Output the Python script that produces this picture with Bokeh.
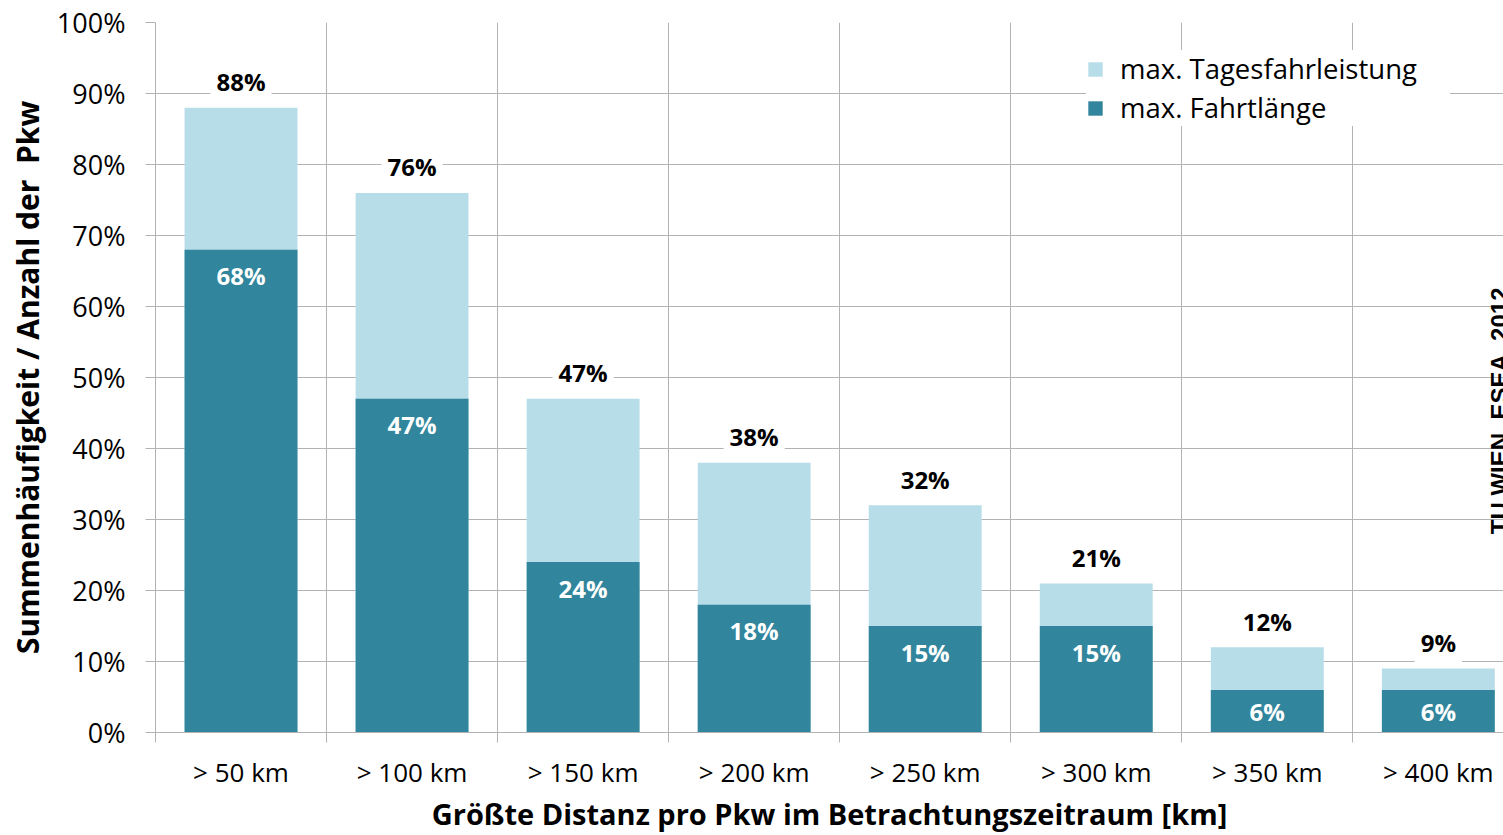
from bokeh.plotting import figure
from bokeh.models import ColumnDataSource, FixedTicker, PrintfTickFormatter, Range1d, Legend, LegendItem
from bokeh.core.properties import value
from bokeh.embed import file_html
from bokeh.resources import INLINE

# Data: cumulative share of cars exceeding each distance
categories = ["> 50 km", "> 100 km", "> 150 km", "> 200 km", "> 250 km", "> 300 km", "> 350 km", "> 400 km"]
tagesfahrleistung = [88, 76, 47, 38, 32, 21, 12, 9]   # max. daily mileage
fahrtlaenge = [68, 47, 24, 18, 15, 15, 6, 6]          # max. trip length
y_ticks = [0, 10, 20, 30, 40, 50, 60, 70, 80, 90, 100]

LIGHT = "#b7dde8"
DARK = "#31859c"
GRID = "#b3b3b3"
FONT = "Open Sans"

centers = [i + 0.5 for i in range(len(categories))]
n = len(categories)

# inner labels: a fixed distance below the bar top, but never below half the bar
px_per_pct = 7.1
inner_y = [max(v - 26 / px_per_pct, v / 2) for v in fahrtlaenge]

src = ColumnDataSource(dict(
    x=centers,
    total=tagesfahrleistung,
    trip=fahrtlaenge,
    total_txt=[f"{v}%" for v in tagesfahrleistung],
    trip_txt=[f"{v}%" for v in fahrtlaenge],
    inner_y=inner_y,
))

p = figure(width=1503, height=835, output_backend="svg", toolbar_location=None,
           x_range=Range1d(0, 7.881), y_range=Range1d(0, 100),
           min_border_left=155, min_border_right=0, min_border_top=22, min_border_bottom=103)
p.outline_line_color = None
p.background_fill_color = "white"
p.border_fill_color = "white"

r_light = p.vbar(x="x", top="total", width=0.66, source=src, fill_color=LIGHT, line_color=None)
r_dark = p.vbar(x="x", top="trip", width=0.66, source=src, fill_color=DARK, line_color=None)

# value labels
p.text(x="x", y="total", text="total_txt", source=src, text_align="center", text_baseline="middle",
       y_offset=-26, text_font=value(FONT), text_font_style="bold", text_font_size="24px",
       text_color="black", background_fill_color="white", padding=6)
p.text(x="x", y="inner_y", text="trip_txt", source=src, text_align="center", text_baseline="middle",
       text_font=value(FONT), text_font_style="bold", text_font_size="24px", text_color="white")

# x axis: labels at category centres, tick marks at category boundaries
p.xaxis.ticker = FixedTicker(ticks=centers, minor_ticks=list(range(n + 1)))
p.xaxis.major_label_overrides = {c: lab for c, lab in zip(centers, categories)}
p.xaxis.major_tick_line_color = None
p.xaxis.minor_tick_line_color = GRID
p.xaxis.minor_tick_in = 0
p.xaxis.minor_tick_out = 10
p.xaxis.axis_line_color = GRID
p.xaxis.major_label_text_font = FONT
p.xaxis.major_label_text_font_size = "26px"
p.xaxis.major_label_text_color = "black"
p.xaxis.major_label_standoff = 11
p.xaxis.axis_label = "Größte Distanz pro Pkw im Betrachtungszeitraum [km]"
p.xaxis.axis_label_text_font = FONT
p.xaxis.axis_label_text_font_style = "bold"
p.xaxis.axis_label_text_font_size = "29px"
p.xaxis.axis_label_text_color = "black"
p.xaxis.axis_label_standoff = 1

p.yaxis.ticker = FixedTicker(ticks=y_ticks)
p.yaxis.formatter = PrintfTickFormatter(format="%d%%")
p.yaxis.minor_tick_line_color = None
p.yaxis.major_tick_line_color = GRID
p.yaxis.major_tick_in = 0
p.yaxis.major_tick_out = 10
p.yaxis.axis_line_color = GRID
p.yaxis.major_label_text_font = FONT
p.yaxis.major_label_text_font_size = "27px"
p.yaxis.major_label_text_color = "black"
p.yaxis.major_label_standoff = 20
p.yaxis.axis_label = "Summenhäufigkeit / Anzahl der \u00a0Pkw"
p.yaxis.axis_label_text_font = FONT
p.yaxis.axis_label_text_font_style = "bold"
p.yaxis.axis_label_text_font_size = "30px"
p.yaxis.axis_label_text_color = "black"
p.yaxis.axis_label_standoff = 6

p.xgrid.ticker = FixedTicker(ticks=list(range(1, n + 1)))
p.xgrid.grid_line_color = GRID
p.ygrid.ticker = FixedTicker(ticks=y_ticks[1:])
p.ygrid.grid_line_color = GRID

# source note along the right edge
p.text(x=[7.779], y=[45.3], text=["TU WIEN, ESEA, 2012"], angle=1.5708, text_align="center",
       text_baseline="top", text_font=value("Liberation Sans"), text_font_style="bold",
       text_font_size="24px", text_color="black")

legend = Legend(items=[LegendItem(label="max. Tagesfahrleistung", renderers=[r_light]),
                       LegendItem(label="max. Fahrtlänge", renderers=[r_dark])],
                location=(931, 606))
legend.label_text_font = FONT
legend.label_text_font_size = "27.5px"
legend.label_text_color = "black"
legend.glyph_width = 18
legend.glyph_height = 18
legend.label_standoff = 16
legend.label_width = 330
legend.spacing = 2
legend.label_height = 36
legend.padding = 10
legend.margin = 0
legend.border_line_color = None
legend.background_fill_color = "white"
legend.background_fill_alpha = 1.0
p.add_layout(legend, "center")

open("out.html", "w").write(file_html(p, INLINE))
